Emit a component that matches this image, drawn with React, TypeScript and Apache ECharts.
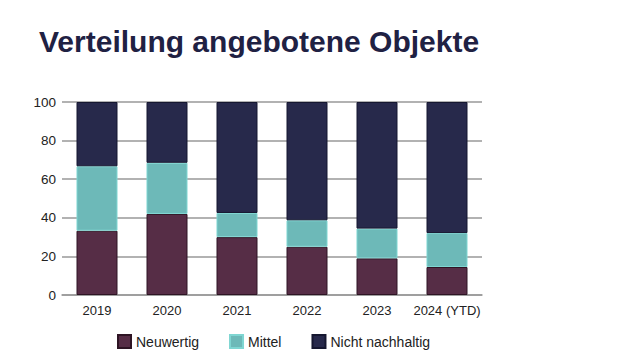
import React, { useEffect, useRef } from "react";
import * as echarts from "echarts";

const years = ["2019", "2020", "2021", "2022", "2023", "2024 (YTD)"];
const neuwertig = [33.3, 42, 30, 25, 19, 14.5];
const mittel = [33.4, 26.5, 12.5, 13.7, 15.4, 17.6];
const nichtNachhaltig = [33.3, 31.5, 57.5, 61.3, 65.6, 67.9];
const yTicks = { min: 0, max: 100, interval: 20 };

const FONT = "'Liberation Sans', Arial, Helvetica, sans-serif";

export default function App() {
  const ref = useRef<HTMLDivElement>(null);
  useEffect(() => {
    if (!ref.current) return;
    const chart = echarts.init(ref.current, null, { renderer: "svg" });
    const mk = (name: string, data: number[], color: string, border: string) => ({
      name,
      type: "bar",
      stack: "total",
      data,
      barWidth: 41,
      itemStyle: { color, borderColor: border, borderWidth: 1 },
    });
    chart.setOption({
      animation: false,
      textStyle: { fontFamily: FONT },
      title: {
        text: "Verteilung angebotene Objekte",
        left: 34,
        top: 21,
        textStyle: { fontFamily: FONT, fontSize: 30, fontWeight: "bold", color: "#1f2143" },
      },
      grid: { left: 62, right: 159, top: 102, bottom: 69, containLabel: false },
      legend: {
        left: 112,
        top: 329,
        itemWidth: 13,
        itemHeight: 13,
        itemGap: 30,
        icon: "rect",
        textStyle: { fontFamily: FONT, fontSize: 14, color: "#222" },
        data: ["Neuwertig", "Mittel", "Nicht nachhaltig"],
      },
      xAxis: {
        type: "category",
        data: years,
        axisLine: { show: true, lineStyle: { color: "#999", width: 1.5 } },
        axisTick: { show: false },
        axisLabel: { fontFamily: FONT, fontSize: 13, color: "#222", margin: 9, interval: 0 },
      },
      yAxis: {
        type: "value",
        min: yTicks.min,
        max: yTicks.max,
        interval: yTicks.interval,
        axisLine: { show: false },
        axisTick: { show: false },
        axisLabel: { fontFamily: FONT, fontSize: 13.5, color: "#222", margin: 6 },
        splitLine: { lineStyle: { color: "#999", width: 1.5 } },
      },
      series: [
        mk("Neuwertig", neuwertig, "#562d46", "#2e1424"),
        mk("Mittel", mittel, "#6db9b8", "#7fd6d2"),
        mk("Nicht nachhaltig", nichtNachhaltig, "#27294b", "#151730"),
      ],
    });
    return () => chart.dispose();
  }, []);
  return <div ref={ref} style={{ width: 641, height: 364, margin: -8 }} />;
}
